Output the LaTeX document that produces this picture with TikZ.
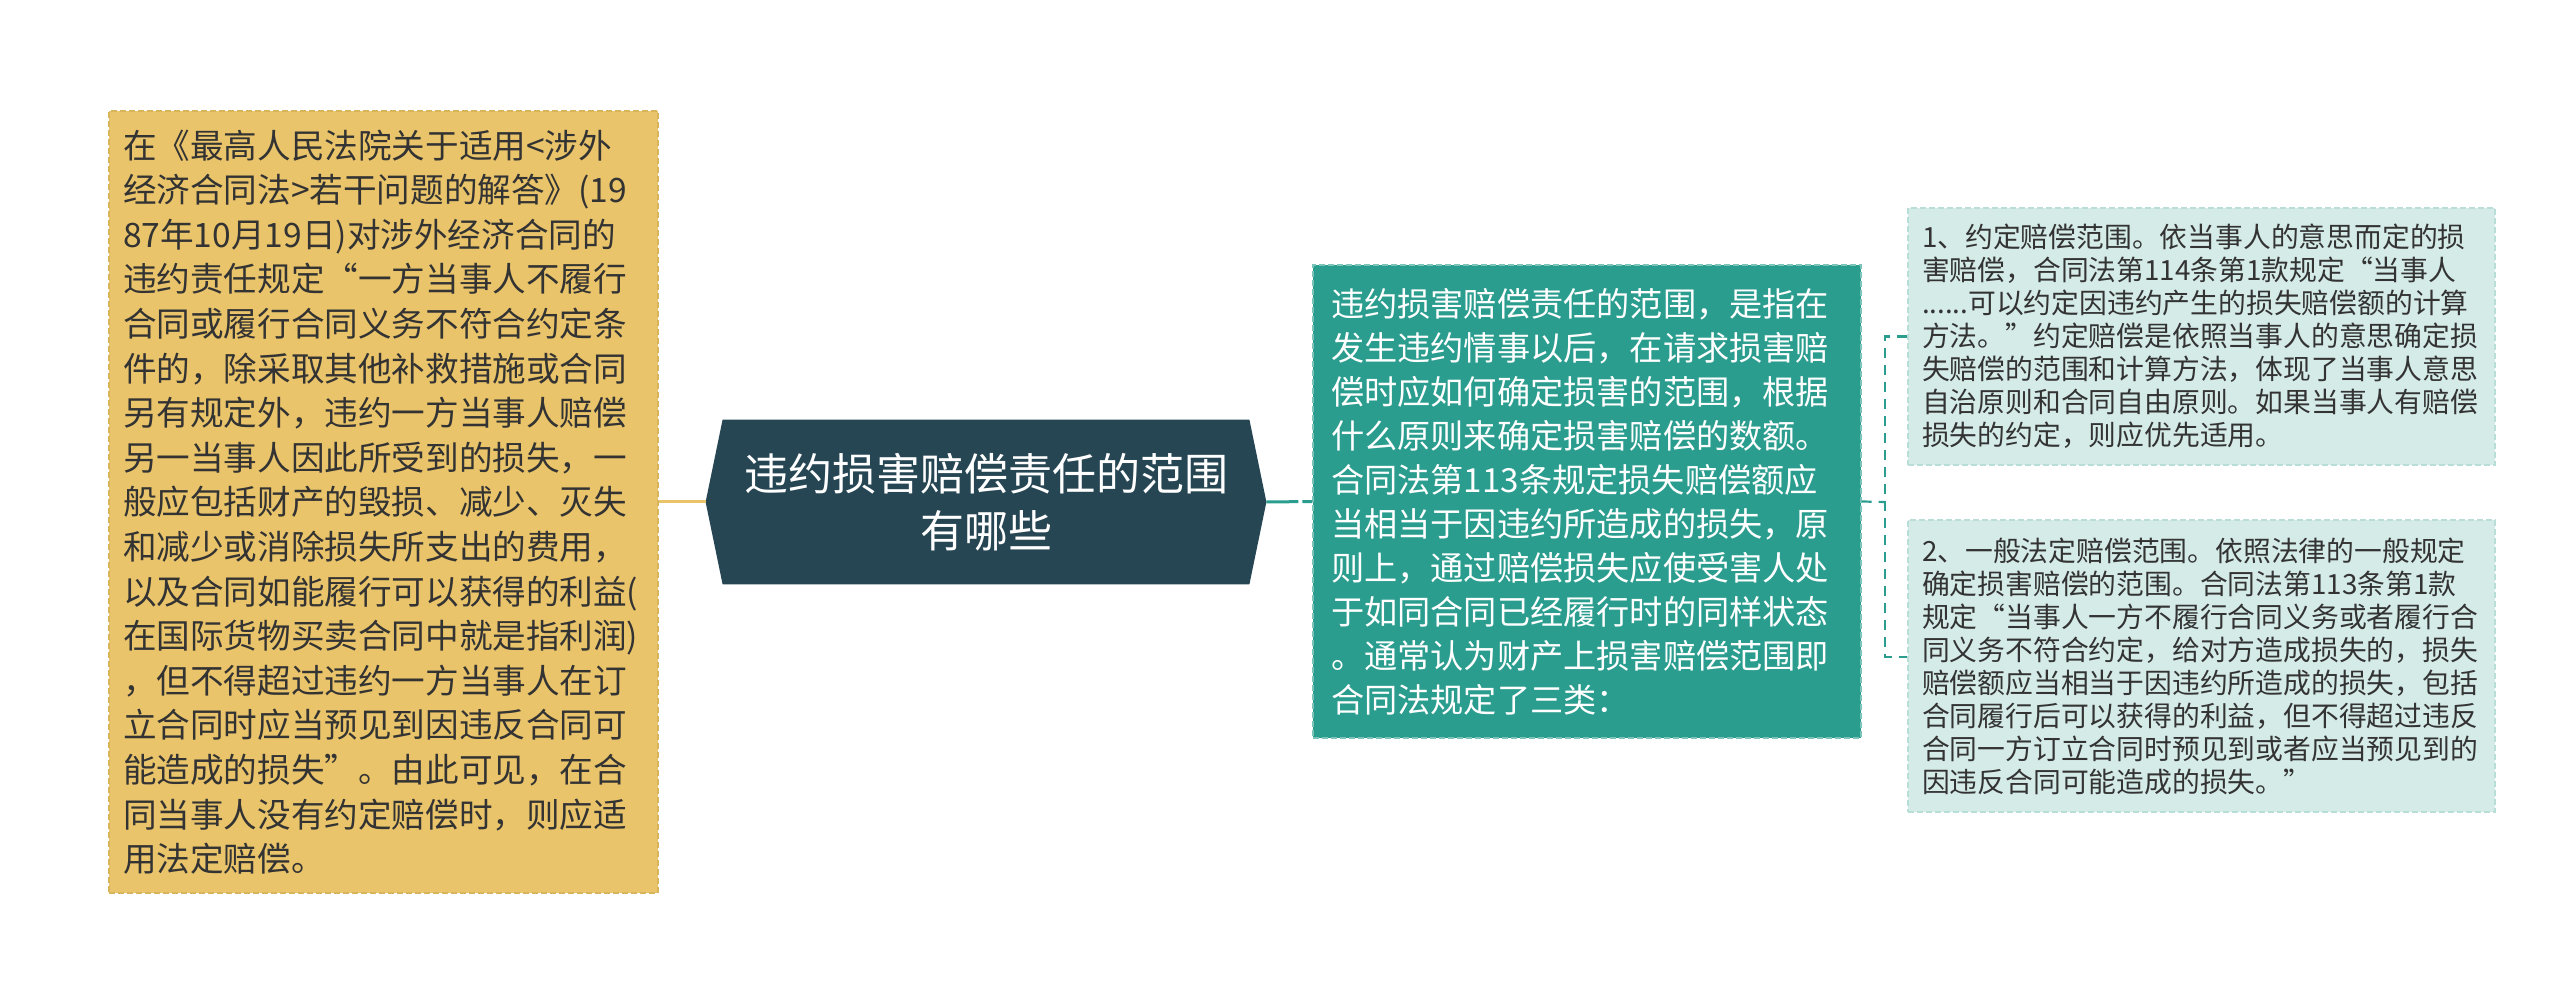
\documentclass[tikz,border=0pt]{standalone}
\usepackage{fontspec}
\setmainfont{Noto Sans CJK SC}
\usepackage{tikz}
\usetikzlibrary{backgrounds}
\definecolor{hubfill}{HTML}{264653}
\definecolor{goldfill}{HTML}{E9C46A}
\definecolor{goldline}{HTML}{D8B45A}
\definecolor{tealfill}{HTML}{2A9D8F}
\definecolor{tealline}{HTML}{7CC4BA}
\definecolor{palefill}{HTML}{D5EBE8}
\definecolor{paleline}{HTML}{B9DDD7}
\definecolor{bodytext}{HTML}{333333}
\tikzset{gold box/.style={fill=goldfill, draw=goldline, dash pattern=on 3pt off 1.5pt, line width=0.6pt, text=bodytext, align=left, inner xsep=7pt, text width=260.5pt, minimum height=391pt, font=\fontsize{16.8pt}{22.3pt}\selectfont}}
\tikzset{hub/.style={inner sep=0pt, minimum width=280pt, minimum height=82pt, text=white, align=center, font=\fontsize{22pt}{28.6pt}\selectfont}}
\tikzset{teal box/.style={fill=tealfill, draw=tealline, dash pattern=on 3pt off 1.5pt, line width=0.6pt, text=white, align=left, inner xsep=9pt, text width=256pt, minimum height=236.5pt, font=\fontsize{16.6pt}{22pt}\selectfont}}
\tikzset{pale box/.style={fill=palefill, draw=paleline, dash pattern=on 3pt off 1.5pt, line width=0.6pt, text=bodytext, align=left, inner xsep=7pt, text width=279.5pt, font=\fontsize{13.9pt}{16.5pt}\selectfont}}
\tikzset{gold link/.style={draw=goldfill, line width=1.5pt}}
\tikzset{teal link/.style={draw=tealfill, line width=1.5pt, dash pattern=on 16pt off 2pt}}
\tikzset{bracket/.style={draw=tealfill, line width=1.1pt, dash pattern=on 5pt off 3.5pt}}

\begin{document}
\begin{tikzpicture}[x=0.5pt, y=-0.5pt]
            \useasboundingbox (0, 0) rectangle (2560, 1004);
            \node[gold box] (cases) at (383.5, 502) {在《最高人民法院关于适用<涉外\\经济合同法>若干问题的解答》(19\\87年10月19日)对涉外经济合同的\\违约责任规定“一方当事人不履行\\合同或履行合同义务不符合约定条\\件的，除采取其他补救措施或合同\\另有规定外，违约一方当事人赔偿\\另一当事人因此所受到的损失，一\\般应包括财产的毁损、减少、灭失\\和减少或消除损失所支出的费用，\\以及合同如能履行可以获得的利益(\\在国际货物买卖合同中就是指利润)\\，但不得超过违约一方当事人在订\\立合同时应当预见到因违反合同可\\能造成的损失”。由此可见，在合\\同当事人没有约定赔偿时，则应适\\用法定赔偿。};
            \node[hub] (scope) at (986, 502) {违约损害赔偿责任的范围\\有哪些};
            \node[teal box] (meaning) at (1587, 501.5) {违约损害赔偿责任的范围，是指在\\发生违约情事以后，在请求损害赔\\偿时应如何确定损害的范围，根据\\什么原则来确定损害赔偿的数额。\\合同法第113条规定损失赔偿额应\\当相当于因违约所造成的损失，原\\则上，通过赔偿损失应使受害人处\\于如同合同已经履行时的同样状态\\。通常认为财产上损害赔偿范围即\\合同法规定了三类：};
            \node[pale box, minimum height=128.5pt] (agreed) at (2201.5, 336.5) {1、约定赔偿范围。依当事人的意思而定的损\\害赔偿，合同法第114条第1款规定“当事人\\......可以约定因违约产生的损失赔偿额的计算\\方法。”约定赔偿是依照当事人的意思确定损\\失赔偿的范围和计算方法，体现了当事人意思\\自治原则和合同自由原则。如果当事人有赔偿\\损失的约定，则应优先适用。};
            \node[pale box, minimum height=146pt] (legal) at (2201.5, 666) {2、一般法定赔偿范围。依照法律的一般规定\\确定损害赔偿的范围。合同法第113条第1款\\规定“当事人一方不履行合同义务或者履行合\\同义务不符合约定，给对方造成损失的，损失\\赔偿额应当相当于因违约所造成的损失，包括\\合同履行后可以获得的利益，但不得超过违反\\合同一方订立合同时预见到或者应当预见到的\\因违反合同可能造成的损失。”};
            \begin{scope}[on background layer]
                \fill[hubfill] (scope.west) -- ([xshift=8.5pt]scope.north west) -- ([xshift=-8.5pt]scope.north east) -- (scope.east) -- ([xshift=-8.5pt]scope.south east) -- ([xshift=8.5pt]scope.south west) -- cycle;
            \end{scope}
            \coordinate (split) at (1885, 502);
            \draw[gold link] (cases.east) -- (scope.west);
            \draw[teal link] (scope.east) -- (meaning.west);
            \draw[bracket] (meaning.east) -- (split);
            \draw[bracket] (agreed.west) -| (split) |- ([yshift=4.5pt]legal.west);
        \end{tikzpicture}
\end{document}
